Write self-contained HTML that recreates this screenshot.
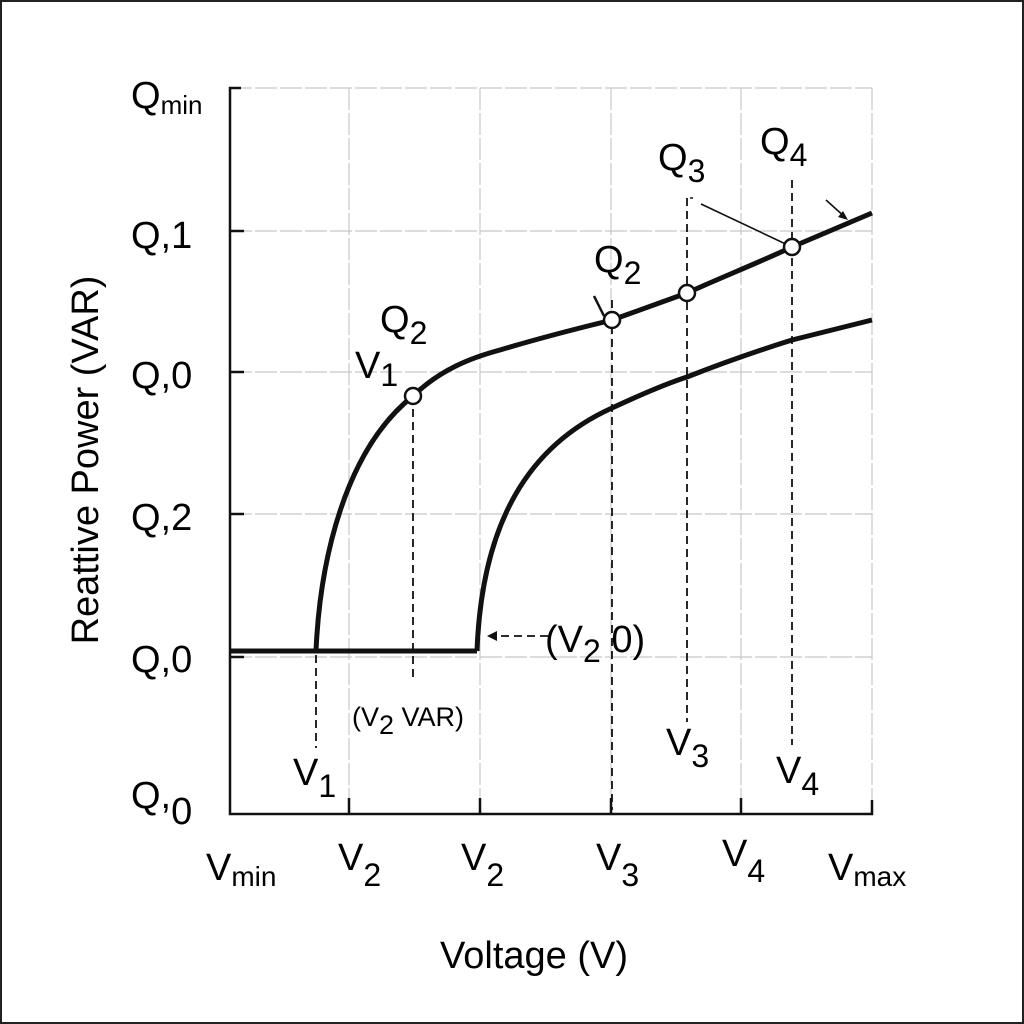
<!DOCTYPE html>
<html><head><meta charset="utf-8"><style>
html,body{margin:0;padding:0;background:#fff}
svg{display:block}
text{font-family:"Liberation Sans",sans-serif;fill:#000}
</style></head><body>
<svg width="1024" height="1024" viewBox="0 0 1024 1024">
<rect x="1" y="1" width="1022" height="1022" fill="#fff" stroke="#222" stroke-width="2"/>
<g stroke="#c8c8c8" stroke-width="1.2" stroke-dasharray="22 3">
<line x1="349" y1="88" x2="349" y2="814"/><line x1="480" y1="88" x2="480" y2="814"/>
<line x1="611" y1="88" x2="611" y2="814"/><line x1="741" y1="88" x2="741" y2="814"/>
<line x1="872" y1="88" x2="872" y2="814"/>
<line x1="230" y1="88" x2="872" y2="88"/><line x1="230" y1="231" x2="872" y2="231"/>
<line x1="230" y1="372" x2="872" y2="372"/><line x1="230" y1="514" x2="872" y2="514"/>
<line x1="230" y1="657" x2="872" y2="657"/>
</g>
<g stroke="#111" stroke-width="2.5" fill="none">
<path d="M241,88 H230 V814 H872 V800"/>
<path d="M230,231 h14 M230,372 h14 M230,514 h14 M230,657 h14"/>
<path d="M349,814 v-16 M480,814 v-16 M611,814 v-16 M741,814 v-16"/>
</g>
<g stroke="#111" stroke-width="1.8" stroke-dasharray="8 5" fill="none">
<line x1="316" y1="655" x2="316" y2="748"/>
<line x1="413" y1="396" x2="413" y2="680"/>
<line x1="612" y1="300" x2="612" y2="810"/>
<line x1="687" y1="198" x2="687" y2="722"/>
<line x1="792" y1="180" x2="792" y2="745"/>
<line x1="548" y1="636" x2="492" y2="636"/>
</g>
<path d="M487,636 l10,-5 v10 z" fill="#111"/>
<path d="M690,198 l3,0 M701,204 L792,247" stroke="#111" stroke-width="1.6" fill="none"/>
<path d="M826,200 L846,218" stroke="#111" stroke-width="1.6"/>
<path d="M848,220 l-10,-3 l5,-6 z" fill="#111"/>
<path d="M594,296 L604,316" stroke="#111" stroke-width="2.5"/>
<g stroke="#111" stroke-width="5" fill="none" stroke-linejoin="round">
<path d="M230,651 H477"/>
<path d="M316,651 C320,560 345,450 413,396 C440,370 470,358 500,350 C550,335 580,328 612,320 L687,293 C720,278 760,262 792,247 L872,213"/>
<path d="M477,651 C482,520 530,445 612,408 C640,395 665,384 687,377 C730,360 760,350 792,340 L872,320"/>
</g>
<g fill="#fff" stroke="#111" stroke-width="2.5">
<circle cx="413" cy="396" r="8"/><circle cx="612" cy="320" r="8"/>
<circle cx="687" cy="293" r="8"/><circle cx="792" cy="247" r="8"/>
</g>
<g font-size="38">
<text x="131" y="108">Q<tspan font-size="26" dy="6">min</tspan></text>
<text x="131" y="248">Q,1</text>
<text x="131" y="388">Q,0</text>
<text x="131" y="530">Q,2</text>
<text x="131" y="672">Q,0</text>
<text x="131" y="808">Q,<tspan dy="16">0</tspan></text>
<text x="206" y="880">V<tspan font-size="28" dy="6">min</tspan></text>
<text x="338" y="870">V<tspan font-size="32" dy="16">2</tspan></text>
<text x="461" y="870">V<tspan font-size="32" dy="16">2</tspan></text>
<text x="596" y="870">V<tspan font-size="32" dy="16">3</tspan></text>
<text x="722" y="866">V<tspan font-size="32" dy="16">4</tspan></text>
<text x="828" y="880">V<tspan font-size="28" dy="6">max</tspan></text>
<text x="293" y="785">V<tspan font-size="32" dy="12">1</tspan></text>
<text x="666" y="755">V<tspan font-size="32" dy="12">3</tspan></text>
<text x="776" y="783">V<tspan font-size="32" dy="12">4</tspan></text>
<text x="355" y="378">V<tspan font-size="32" dy="8">1</tspan></text>
<text x="380" y="332">Q<tspan font-size="32" dy="12">2</tspan></text>
<text x="594" y="272">Q<tspan font-size="32" dy="12">2</tspan></text>
<text x="658" y="170">Q<tspan font-size="32" dy="12">3</tspan></text>
<text x="760" y="154">Q<tspan font-size="32" dy="12">4</tspan></text>
<text x="545" y="652">(V<tspan font-size="32" dy="10">2</tspan><tspan dy="-10"> 0)</tspan></text>
</g>
<text x="352" y="726" font-size="27">(V<tspan dy="8">2</tspan><tspan dy="-8"> VAR)</tspan></text>
<text x="440" y="968" font-size="38">Voltage (V)</text>
<text transform="translate(98,460) rotate(-90)" text-anchor="middle" font-size="38">Reattive Power (VAR)</text>
</svg>
</body></html>
